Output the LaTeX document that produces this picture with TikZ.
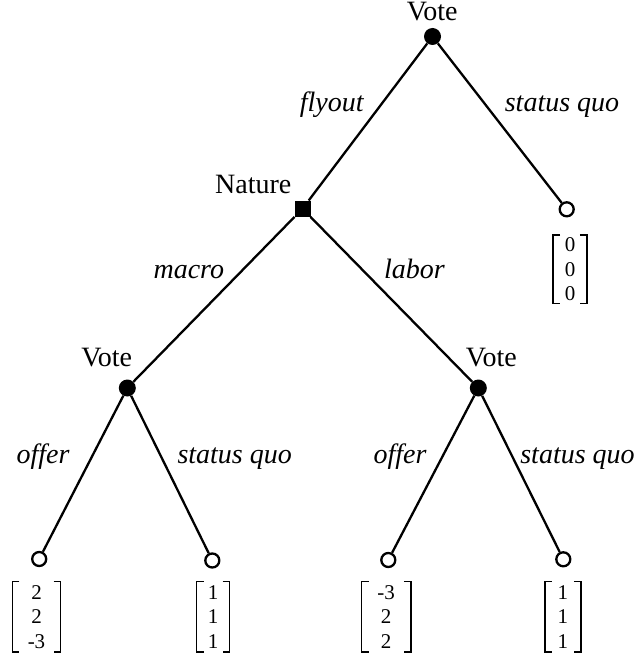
\documentclass[tikz,border=0pt]{standalone}
\usepackage{fontspec}
\setmainfont{Liberation Serif}
\begin{document}
\begin{tikzpicture}[x=1pt,y=-1pt,
  decision/.style={circle,fill=black,inner sep=0pt,minimum size=17pt},
  chance/.style={rectangle,fill=black,inner sep=0pt,minimum size=16pt},
  terminal/.style={circle,draw=black,line width=2.3pt,fill=white,inner sep=0pt,minimum size=14pt},
  branch/.style={line width=2.3pt},
  lbl/.style={font=\fontsize{28}{32}\selectfont,anchor=base,inner sep=0pt},
  elbl/.style={font=\fontsize{28}{32}\selectfont\itshape,anchor=base,inner sep=0pt},
  payoff/.style={font=\fontsize{21}{24.5}\selectfont,align=center,inner sep=0pt,minimum height=70pt},
  bracketline/.style={line width=1.8pt,line cap=butt,line join=miter}]
\useasboundingbox (0,0) rectangle (639,655);
\newcommand\mybrk[1]{%
  \draw[bracketline] ([xshift=7pt]#1.north west) -- (#1.north west) -- (#1.south west) -- ([xshift=7pt]#1.south west);
  \draw[bracketline] ([xshift=-7pt]#1.north east) -- (#1.north east) -- (#1.south east) -- ([xshift=-7pt]#1.south east);}
% nodes
\node[decision] (v0) at (432.5,36.5) {};
\node[chance] (nat) at (302.5,208.7) {};
\node[terminal] (t0) at (566.7,209.3) {};
\node[decision] (v1) at (127.3,388) {};
\node[decision] (v2) at (478.3,388) {};
\node[terminal] (t1) at (39.2,559) {};
\node[terminal] (t2) at (212.3,560.5) {};
\node[terminal] (t3) at (388.3,560) {};
\node[terminal] (t4) at (563.3,559.3) {};
% branches
\draw[branch] (v0) -- (nat);
\draw[branch] (v0) -- (t0);
\draw[branch] (nat) -- (v1);
\draw[branch] (nat) -- (v2);
\draw[branch] (v1) -- (t1);
\draw[branch] (v1) -- (t2);
\draw[branch] (v2) -- (t3);
\draw[branch] (v2) -- (t4);
% player labels
\node[lbl] (lv0) at (432.2,21) {Vote};
\node[lbl] (lnat) at (253.3,193.3) {Nature};
\node[lbl] (lv1) at (106.7,366.7) {Vote};
\node[lbl] (lv2) at (491.3,366.7) {Vote};
% edge labels
\node[elbl] (e1) at (331.7,111.7) {flyout};
\node[elbl] (e2) at (562,111.7) {status quo};
\node[elbl] (e3) at (188.8,278.3) {macro};
\node[elbl] (e4) at (414.5,278.3) {labor};
\node[elbl] (e5) at (43,463.3) {offer};
\node[elbl] (e6) at (234.7,463.3) {status quo};
\node[elbl] (e7) at (400,463.3) {offer};
\node[elbl] (e8) at (577.5,463.3) {status quo};
% payoffs
\node[payoff,minimum width=33.3pt,minimum height=68pt] (p0) at (570,269.2) {0\\0\\0};
\node[payoff,minimum width=47.7pt] (p1) at (36.5,616.7) {2\\2\\-3};
\node[payoff,minimum width=32.6pt] (p2) at (213,616.7) {1\\1\\1};
\node[payoff,minimum width=49pt] (p3) at (386.2,616.7) {-3\\2\\2};
\node[payoff,minimum width=35.7pt] (p4) at (562.8,616.7) {1\\1\\1};
\mybrk{p0}\mybrk{p1}\mybrk{p2}\mybrk{p3}\mybrk{p4}
\end{tikzpicture}
\end{document}
